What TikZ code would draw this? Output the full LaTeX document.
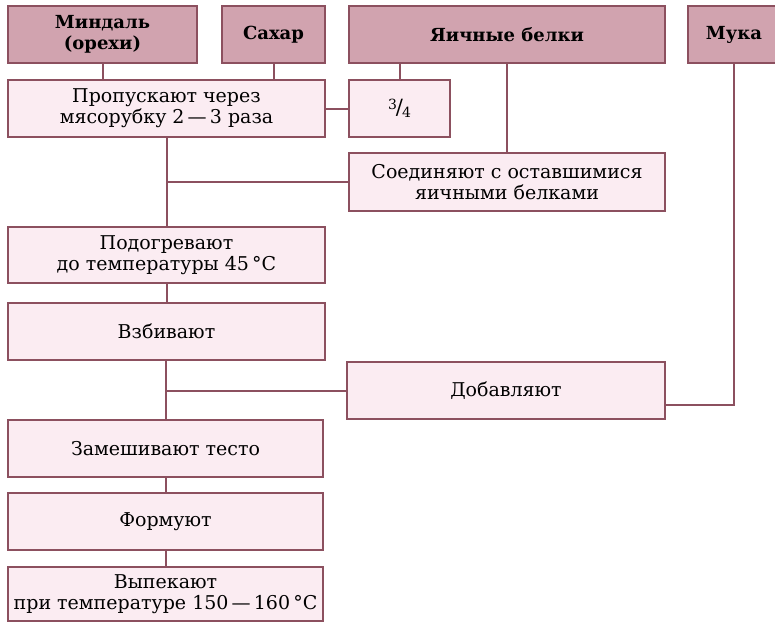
\documentclass[tikz,border=0pt]{standalone}
\usepackage{fontspec}
\setmainfont{DejaVu Serif}
\usetikzlibrary{positioning, calc}

\definecolor{framecol}{RGB}{140,80,95}
\definecolor{headfill}{RGB}{209,163,175}
\definecolor{stepfill}{RGB}{251,236,242}

\tikzset{
  headbox/.style={rectangle, draw=framecol, fill=headfill, line width=1.8pt, inner sep=0pt,
    align=center, font=\fontsize{18}{21}\selectfont\bfseries},
  stepbox/.style={rectangle, draw=framecol, fill=stepfill, line width=1.8pt, inner sep=0pt,
    align=center, font=\fontsize{19}{21}\selectfont},
  link/.style={draw=framecol, line width=2pt}
}

\begin{document}
\begin{tikzpicture}[x=1pt, y=-1pt]
      \useasboundingbox (0,0) rectangle (775,623);

      % ingredients
      \node[headbox, minimum width=189pt, minimum height=57pt] (almond) at (102.5,34.5) {Миндаль\\(орехи)};
      \node[headbox, minimum width=103pt, minimum height=57pt] (sugar) at (273.5,34.5) {Сахар};
      \node[headbox, minimum width=316pt, minimum height=57pt] (whites) at (507,34.5) {Яичные белки};
      \node[headbox, minimum width=92pt, minimum height=57pt] (flour) at (734,34.5) {Мука};

      % steps
      \node[stepbox, minimum width=317pt, minimum height=57pt] (grind) at (166.5,108.5) {Пропускают через\\мясорубку 2\,—\,3 раза};
      \node[stepbox, minimum width=101pt, minimum height=57pt] (quarter) at (399.5,108.5)
        {\raisebox{0.5ex}{\fontsize{14}{14}\selectfont 3}\kern-0.05em{\fontsize{21}{21}\selectfont /}\kern-0.05em\raisebox{-0.35ex}{\fontsize{14}{14}\selectfont 4}};
      \node[stepbox, minimum width=316pt, minimum height=58pt] (join) at (507,182) {Соединяют с оставшимися\\яичными белками};
      \node[stepbox, minimum width=317pt, minimum height=56pt] (heat) at (166.5,255) {Подогревают\\до температуры 45\,°C};
      \node[stepbox, minimum width=317pt, minimum height=57pt] (whip) at (166.5,331.5) {Взбивают};
      \node[stepbox, minimum width=318pt, minimum height=57pt] (add) at (506,390.5) {Добавляют};
      \node[stepbox, minimum width=315pt, minimum height=57pt] (knead) at (165.5,448.5) {Замешивают тесто};
      \node[stepbox, minimum width=315pt, minimum height=57pt] (shape) at (165.5,521.5) {Формуют};
      \node[stepbox, minimum width=315pt, minimum height=54pt] (bake) at (165.5,594) {Выпекают\\при температуре 150\,—\,160\,°C};

      \coordinate (addin) at (665,405);

      % connectors
      \draw[link] (almond.south) -- (almond.south |- grind.north);
      \draw[link] (sugar.south) -- (sugar.south |- grind.north);
      \draw[link] (grind.east) -- (quarter.west);
      \draw[link] (quarter.north) -- (quarter.north |- whites.south);
      \draw[link] (join.north) -- (join.north |- whites.south);
      \draw[link] (grind.south) -- (heat.north);
      \draw[link] (join.west) -- (join.west -| grind.south);
      \draw[link] (heat.south) -- (whip.north);
      \draw[link] (whip.south) -- (knead.north |- whip.south) -- (knead.north);
      \draw[link] (add.west) -- (add.west -| whip.south);
      \draw[link] (addin) -| (flour.south);
      \draw[link] (knead.south) -- (shape.north);
      \draw[link] (shape.south) -- (bake.north);
    \end{tikzpicture}
\end{document}
